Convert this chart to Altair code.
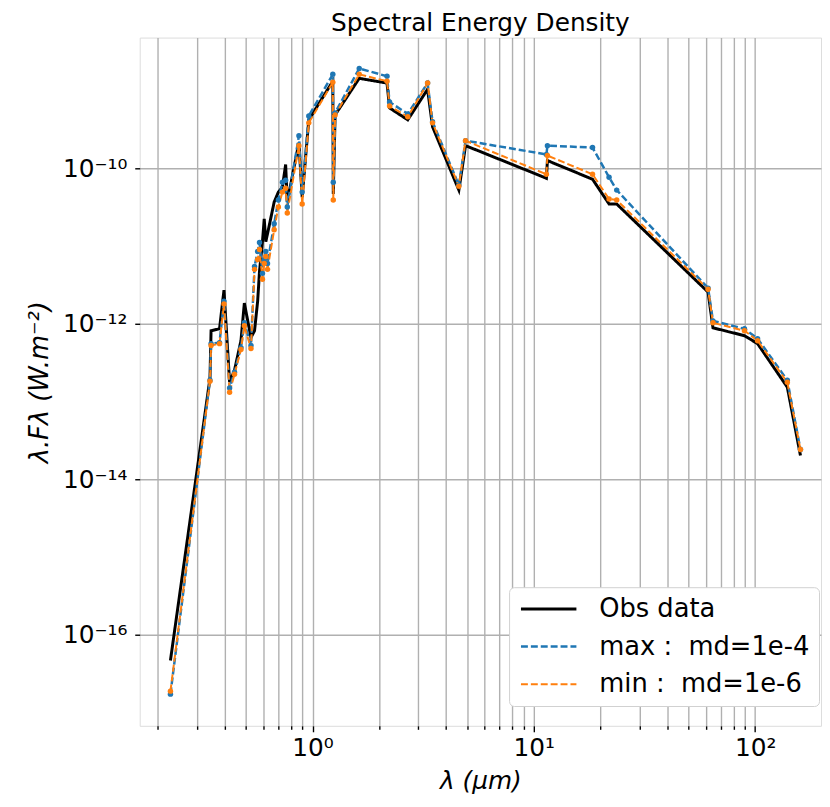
import altair as alt
import pandas as pd

# ---- data ----
wavelength_um = [0.228, 0.344, 0.348, 0.380, 0.398, 0.422, 0.444, 0.475, 0.492, 0.527,
                 0.547, 0.565, 0.576, 0.594, 0.605, 0.615, 0.626, 0.671, 0.701, 0.731,
                 0.756, 0.769, 0.868, 0.898, 0.962, 1.235, 1.241, 1.265, 1.626, 2.171,
                 2.229, 2.694, 3.311, 3.486, 4.584, 4.914, 11.40, 11.52, 18.42, 21.88,
                 23.69, 61.3, 64.5, 89.5, 102.6, 139.8, 160.3]

obs_flux = [4.67e-17, 1.99e-13, 8.14e-13, 8.63e-13, 2.71e-12, 1.77e-13, 2.52e-13, 6.07e-13, 1.85e-12, 6.64e-13,
            8.14e-13, 1.96e-12, 4.73e-12, 1.14e-11, 2.24e-11, 1.14e-11, 1.44e-11, 3.69e-11, 4.95e-11, 5.73e-11,
            1.12e-10, 3.69e-11, 2.14e-10, 4.27e-11, 4.21e-10, 1.32e-9, 4.67e-11, 4.87e-10, 1.44e-9, 1.25e-9,
            5.98e-10, 4.21e-10, 1.04e-9, 3.43e-10, 5.25e-11, 1.96e-10, 7.46e-11, 1.26e-10, 7.24e-11, 3.48e-11,
            3.48e-11, 2.56e-12, 8.89e-13, 7.03e-13, 5.56e-13, 1.53e-13, 2.02e-14]

max_flux = [1.72e-17, 1.88e-13, 5.56e-13, 5.73e-13, 1.96e-12, 1.49e-13, 2.38e-13, 4.94e-13, 1.03e-12, 5.25e-13,
            5.48e-12, 8.51e-12, 1.11e-11, 4.46e-12, 6.73e-12, 8.51e-12, 5.98e-12, 1.94e-11, 3.91e-11, 6.63e-11,
            7.03e-11, 3.19e-11, 2.63e-10, 4.95e-11, 4.73e-10, 1.62e-9, 6.63e-11, 5.17e-10, 1.93e-9, 1.53e-9,
            7.14e-10, 5.02e-10, 1.25e-9, 3.97e-10, 6.07e-11, 2.27e-10, 1.51e-10, 1.96e-10, 1.85e-10, 7.68e-11,
            5.25e-11, 2.88e-12, 1.09e-12, 8.63e-13, 6.44e-13, 1.88e-13, 2.41e-14]

min_flux = [1.88e-17, 1.82e-13, 5.25e-13, 5.56e-13, 1.80e-12, 1.32e-13, 2.24e-13, 4.67e-13, 9.43e-13, 4.81e-13,
            5.02e-12, 6.73e-12, 9.02e-12, 3.74e-12, 5.98e-12, 7.35e-12, 5.02e-12, 1.62e-11, 3.19e-11, 4.95e-11,
            5.56e-11, 2.67e-11, 1.96e-10, 3.48e-11, 3.85e-10, 1.28e-9, 3.91e-11, 4.87e-10, 1.62e-9, 1.32e-9,
            6.35e-10, 4.60e-10, 1.25e-9, 3.85e-10, 5.90e-11, 2.27e-10, 8.39e-11, 1.46e-10, 8.39e-11, 4.03e-11,
            3.91e-11, 2.79e-12, 1.03e-12, 8.14e-13, 6.07e-13, 1.77e-13, 2.41e-14]

series_names = ["Obs data", "max :\u00a0 md=1e-4", "min :\u00a0 md=1e-6"]
series_colors = ["#000000", "#1f77b4", "#ff7f0e"]

x_major = [1, 10, 100]
x_minor = [0.2, 0.3, 0.4, 0.5, 0.6, 0.7, 0.8, 0.9,
           2, 3, 4, 5, 6, 7, 8, 9,
           20, 30, 40, 50, 60, 70, 80, 90]
y_major_exp = [-16, -14, -12, -10]

SUP = str.maketrans("0123456789-", "⁰¹²³⁴⁵⁶⁷⁸⁹⁻")

rows = []
for name, vals in zip(series_names, [obs_flux, max_flux, min_flux]):
    for lam, f in zip(wavelength_um, vals):
        rows.append({"lam": lam, "flux": f, "series": name})
df = pd.DataFrame(rows)

x_ticks = sorted(x_major + x_minor)
x_label_expr = " : ".join(
    [f"datum.value == {v} ? '10{str(e).translate(SUP)}'" for v, e in zip(x_major, [0, 1, 2])]
) + " : ''"
y_label_expr = " : ".join(
    [f"round(log(datum.value)/LN10) == {e} ? '10{str(e).translate(SUP)}'" for e in y_major_exp]
) + " : ''"

x_scale = alt.Scale(type="log", domain=[0.1656, 198.5], nice=False)
y_scale = alt.Scale(type="log", domain=[6.73e-18, 4.81e-9], nice=False)

FONT = "DejaVu Sans"
GRID = "#b0b0b0"

x_enc = alt.X(
    "lam:Q", scale=x_scale,
    axis=alt.Axis(
        values=x_ticks, labelExpr=x_label_expr, labelOverlap=False, grid=True,
        gridColor=GRID, gridWidth=1.4,
        domain=False, tickColor="#000", tickWidth=1.4,
        tickSize={"condition": {"test": "datum.value == 1 || datum.value == 10 || datum.value == 100", "value": 6}, "value": 3.5},
        labelFont=FONT, labelFontSize=25, labelColor="#000", labelPadding=4, labelFlush=False,
        title="λ (μm)", titleFont=FONT, titleFontSize=25, titleFontWeight="normal",
        titleFontStyle="italic", titleColor="#000", titlePadding=8,
    ),
)
y_enc = alt.Y(
    "flux:Q", scale=y_scale,
    axis=alt.Axis(
        values=[10.0 ** e for e in y_major_exp], labelExpr=y_label_expr, labelOverlap=False, grid=True,
        gridColor=GRID, gridWidth=1.4, domain=False, tickColor="#000", tickWidth=1.4, tickSize=5,
        labelFont=FONT, labelFontSize=25, labelColor="#000", labelPadding=8, labelFlush=False,
        title="λ.Fλ (W.m⁻²)", titleFont=FONT, titleFontSize=26, titleFontWeight="normal",
        titleFontStyle="italic", titleColor="#000", titlePadding=10,
    ),
)

legend_cfg = alt.Legend(
    title=None, orient="none", legendX=373, legendY=555,
    fillColor="white", strokeColor="#d0d0d0", cornerRadius=5, padding=9,
    labelFont=FONT, labelFontSize=26, labelColor="#000", labelOffset=56, labelLimit=500,
    symbolType="M-1,0H4.6", symbolSize=400, symbolStrokeWidth=2.6, rowPadding=12,
)

lines = alt.Chart(df).mark_line(clip=True).encode(
    x=x_enc,
    y=y_enc,
    color=alt.Color(
        "series:N",
        scale=alt.Scale(domain=series_names, range=series_colors),
        legend=legend_cfg,
    ),
    strokeDash=alt.StrokeDash(
        "series:N",
        scale=alt.Scale(domain=series_names, range=[[1, 0], [7, 3], [7, 3]]),
        legend=legend_cfg,
    ),
    strokeWidth=alt.StrokeWidth(
        "series:N", scale=alt.Scale(domain=series_names, range=[3.0, 2.0, 2.0]), legend=None
    ),
)

pts_max = alt.Chart(df).transform_filter(
    alt.datum.series == series_names[1]
).mark_circle(size=30, opacity=1, color=series_colors[1], clip=True).encode(
    x=alt.X("lam:Q", scale=x_scale), y=alt.Y("flux:Q", scale=y_scale)
)
pts_min = alt.Chart(df).transform_filter(
    alt.datum.series == series_names[2]
).mark_circle(size=30, opacity=1, color=series_colors[2], clip=True).encode(
    x=alt.X("lam:Q", scale=x_scale), y=alt.Y("flux:Q", scale=y_scale)
)

chart = alt.layer(lines, pts_max, pts_min).properties(
    width=688,
    height=695,
    title=alt.TitleParams(
        "Spectral Energy Density", font=FONT, fontSize=25, fontWeight="normal",
        color="#000", baseline="alphabetic", offset=12, dy=30, anchor="middle",
    ),
    autosize=alt.AutoSizeParams(type="none"),
    padding={"left": 133, "top": 26, "right": 1, "bottom": 70},
).configure_view(
    stroke="#000", strokeWidth=1.6
).configure(background="white")

chart.save("out.html", embed_options={"renderer": "svg", "actions": False})
